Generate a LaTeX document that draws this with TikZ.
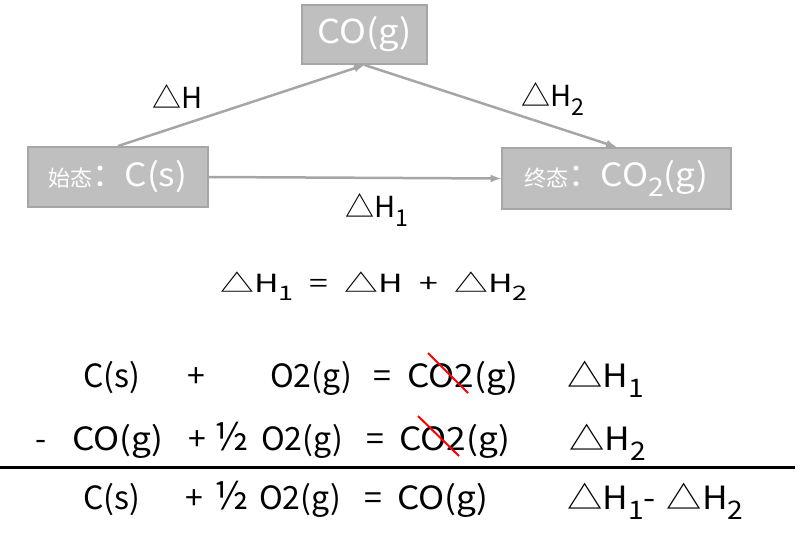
\documentclass[tikz,border=0pt]{standalone}
\usepackage{fontspec}
\setmainfont{Noto Sans CJK SC}
\usetikzlibrary{arrows}
\definecolor{boxfill}{HTML}{BFBFBF}
\definecolor{boxline}{HTML}{A6A6A6}
\newcommand\sz[1]{\fontsize{#1}{#1}\selectfont}
\newcommand\hsub[1]{\raisebox{-0.33em}{\scalebox{0.8}{#1}}}
\newcommand\wide[1]{\scalebox{1.1}[1]{#1}}

\begin{document}
\begin{tikzpicture}[x=1pt,y=-1pt,
        state/.style={draw=boxline,fill=boxfill,rectangle,line width=2pt,inner sep=0pt,text=white},
        flow/.style={draw=boxline,line width=2.5pt,-latex},
        lbl/.style={inner sep=0pt,font=\sz{29}},
        eqn/.style={inner sep=0pt,anchor=base west,font=\sz{32}},
        strike/.style={red,line width=2pt}
      ]
      \useasboundingbox (0,0) rectangle (798,544);
      % enthalpy cycle
      \node[state,minimum width=125pt,minimum height=59pt] (co) at (364.5,34.5) {\sz{33}\wide{CO(g)}};
      \node[state,minimum width=180pt,minimum height=60pt] (start) at (118,177) {{\sz{22}始态}{\sz{32}：\wide{C(s)}}};
      \node[state,minimum width=229pt,minimum height=61pt] (end) at (616.5,178.5) {{\sz{22}终态}{\sz{32}：\wide{CO\hsub{2}(g)}}};
      \draw[flow] (start.north) -- (co.south);
      \draw[flow] (co.south) -- (end.north);
      \draw[flow] (start.east) -- (end.west);
      \node[lbl] (dh) at (178,97) {△H};
      \node[lbl] (dh2) at (553,99) {△H\hsub{2}};
      \node[lbl] (dh1) at (377,210) {△H\hsub{1}};
      \node[lbl,font=\sz{25}] (sum) at (374,286) {\scalebox{1.35}[1]{△H\hsub{1}\hspace{12pt}=\hspace{12pt}△H\hspace{12pt}+\hspace{12pt}△H\hsub{2}}};
      % Hess's law
      \node[eqn] (c1) at (83,387) {C(s)};
      \node[eqn] (p1) at (187,387) {+};
      \node[eqn] (o1) at (270,387) {O2(g)};
      \node[eqn] (q1) at (373,387) {=};
      \node[eqn] (co1) at (407,387) {\wide{CO2(g)}};
      \node[eqn] (h1) at (567,387) {\wide{△H\hsub{1}}};
      \node[eqn] (m2) at (35,450) {-};
      \node[eqn] (c2) at (72,450) {\wide{CO(g)}};
      \node[eqn] (p2) at (188,450) {+};
      \node[eqn,font=\sz{38}] (hf2) at (214,450) {½};
      \node[eqn] (o2) at (261,450) {O2(g)};
      \node[eqn] (q2) at (366,450) {=};
      \node[eqn] (co2) at (399,450) {\wide{CO2(g)}};
      \node[eqn] (h2) at (569,450) {\wide{△H\hsub{2}}};
      \draw[strike] (428,353) -- (468,393);
      \draw[strike] (418,416) -- (459,456);
      \draw[line width=3pt] (0,467) -- (795,467);
      \node[eqn] (c3) at (83,509) {C(s)};
      \node[eqn] (p3) at (185,509) {+};
      \node[eqn,font=\sz{38}] (hf3) at (214,509) {½};
      \node[eqn] (o3) at (259,509) {O2(g)};
      \node[eqn] (q3) at (364,509) {=};
      \node[eqn] (co3) at (397,509) {\wide{CO(g)}};
      \node[eqn] (h3) at (567,509) {\wide{△H\hsub{1}-\hspace{10pt}△H\hsub{2}}};
    \end{tikzpicture}
\end{document}
